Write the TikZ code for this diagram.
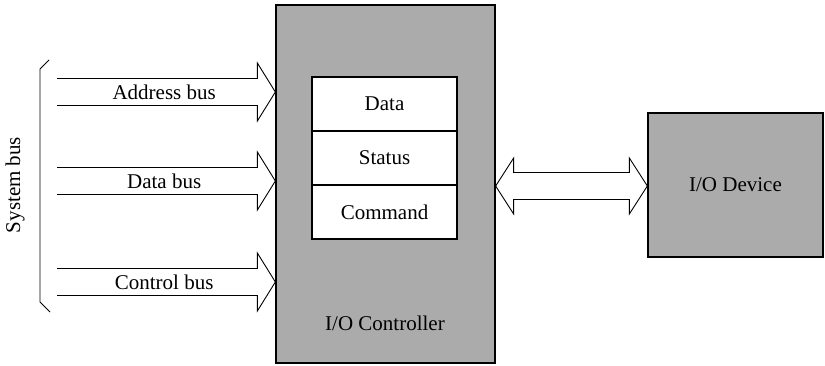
\documentclass[tikz,border=0pt]{standalone}
\usepackage{fontspec}
\setmainfont{Liberation Serif}
\usetikzlibrary{calc}
\tikzset{
  greybox/.style={draw=black, line width=1.3pt, fill=black!33, inner sep=0pt},
  regbox/.style={draw=black, line width=1.3pt, fill=white, inner sep=0pt, minimum width=145pt, minimum height=54pt},
  buslabel/.style={inner sep=0pt, font=\fontsize{21}{25}\selectfont},
  busarrow/.style={draw=black, line width=0.9pt, line join=miter},
}
\begin{document}
\begin{tikzpicture}[x=1pt,y=-1pt, font=\fontsize{21}{25}\selectfont]
\useasboundingbox (0,0) rectangle (825,366);
% I/O controller
\node[greybox, minimum width=219pt, minimum height=358pt] (ctrl) at (385.5,184) {};
\node[buslabel] (ctrllabel) at (385,323) {I/O Controller};
% registers
\node[regbox] (data) at (384.5,104) {Data};
\node[regbox] (status) at (384.5,158) {Status};
\node[regbox] (command) at (384.5,212) {Command};
% I/O device
\node[greybox, minimum width=175pt, minimum height=144pt] (dev) at (735.5,185) {I/O Device};
% bus start points
\coordinate (a1) at (57,92);
\coordinate (a2) at (57,181);
\coordinate (a3) at (57,282);
\foreach \c/\t in {a1/Address bus, a2/Data bus, a3/Control bus}{
  \draw[busarrow] ($(\c)+(0,-13.5)$) -- ($(ctrl.west|-\c)+(-18,-13.5)$) -- ($(ctrl.west|-\c)+(-18,-29)$)
    -- (ctrl.west|-\c) -- ($(ctrl.west|-\c)+(-18,29)$) -- ($(ctrl.west|-\c)+(-18,13.5)$) -- ($(\c)+(0,13.5)$);
  \node[buslabel] at ($(\c)!0.5!(ctrl.west|-\c)+(-2,0)$) {\t};
}
% double arrow between controller and device
\coordinate (d1) at (ctrl.east|-0,186);
\coordinate (d2) at (dev.west|-0,186);
\draw[busarrow] (d1) -- ($(d1)+(18,-28)$) -- ($(d1)+(18,-13.5)$) -- ($(d2)+(-18,-13.5)$) -- ($(d2)+(-18,-28)$)
  -- (d2) -- ($(d2)+(-18,28)$) -- ($(d2)+(-18,13.5)$) -- ($(d1)+(18,13.5)$) -- ($(d1)+(18,28)$) -- cycle;
% system bus bracket
\coordinate (b1) at (49,60);
\coordinate (b2) at (50,312);
\draw[line width=0.9pt] (b1) -- (40,69) -- (40,302) -- (b2);
\node[buslabel, rotate=90] (sys) at (15,185) {System bus};
\end{tikzpicture}
\end{document}
